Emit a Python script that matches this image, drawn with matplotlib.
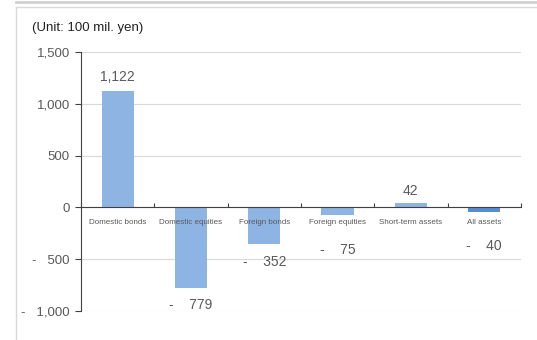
import matplotlib
matplotlib.use('Agg')
import matplotlib.pyplot as plt
from matplotlib.lines import Line2D

categories = ['Domestic bonds', 'Domestic equities', 'Foreign bonds',
              'Foreign equities', 'Short-term assets', 'All assets']
values = [1122, -779, -352, -75, 42, -40]
bar_colors = ['#8EB4E3', '#8EB4E3', '#8EB4E3', '#8EB4E3', '#8EB4E3', '#558ED5']
yticks = [-1000, -500, 0, 500, 1000, 1500]
ytick_labels = ['-   1,000', '-   500', '0', '500', '1,000', '1,500']

plt.rcParams['font.family'] = ['Liberation Sans', 'DejaVu Sans']
grey = '#595959'

fig = plt.figure(figsize=(5.37, 3.4), dpi=100)
ax = fig.add_axes([0.1508, 0.0853, 0.8192, 0.7617])

# outer panel frame
fig.add_artist(Line2D([16/537, 1], [1 - 7/340, 1 - 7/340], color='#D9D9D9', lw=1))
fig.add_artist(Line2D([16/537, 16/537], [0, 1 - 7/340], color='#D9D9D9', lw=1))
fig.add_artist(Line2D([16/537, 1], [1 - 1.5/340, 1 - 1.5/340], color='#D0D0D0', lw=2))

x = list(range(len(categories)))
ax.bar(x, values, width=0.44, color=bar_colors, zorder=3)

ax.set_xlim(-0.5, len(categories) - 0.5)
ax.set_ylim(-1000, 1500)
ax.set_yticks(yticks)
ax.set_yticklabels(ytick_labels, color=grey, fontsize=9.5)
ax.grid(axis='y', color='#D9D9D9', lw=0.8, zorder=0)

for s in ['top', 'right']:
    ax.spines[s].set_visible(False)
ax.spines['left'].set_color('#404040')
ax.spines['bottom'].set_position(('data', 0))
ax.spines['bottom'].set_color('#404040')
ax.spines['bottom'].set_zorder(4)
ax.tick_params(axis='y', direction='out', length=4, color='#404040', pad=4)
ax.set_xticks([i - 0.5 for i in range(len(categories) + 1)])
ax.set_xticklabels([])
ax.tick_params(axis='x', direction='in', length=3, color='#404040')

# category names just under the zero line
for i, name in enumerate(categories):
    ax.annotate(name, (i, 0), xytext=(0, -11), textcoords='offset points',
                ha='center', va='center', fontsize=5.8, color=grey)

# value labels
offsets = [10, -12, -13, -25, 9, -25]
for i, v in enumerate(values):
    txt = f'{v:,}' if v >= 0 else f'-    {abs(v):,}'
    ax.annotate(txt, (i, v), xytext=(0, offsets[i]), textcoords='offset points',
                ha='center', va='center', fontsize=10, color=grey)

fig.text(32/537, 1 - 28/340, '(Unit: 100 mil. yen)', fontsize=9.5,
         color='#222222', va='center', ha='left')

fig.savefig('out.png', dpi=100)
